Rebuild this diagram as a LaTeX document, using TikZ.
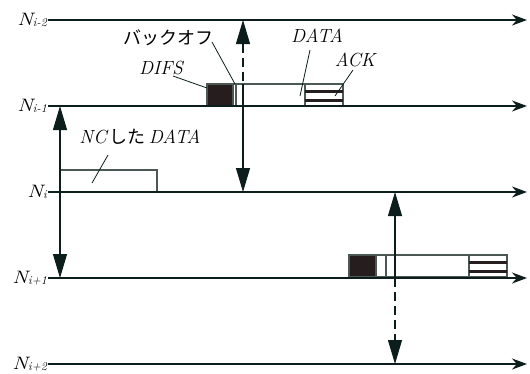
\documentclass[tikz,border=0pt]{standalone}
\usepackage{fontspec}
\newfontfamily\jafont{Noto Sans CJK JP}
\usetikzlibrary{arrows.meta}
\definecolor{lijnkleur}{RGB}{12,30,28}
\definecolor{kaderkleur}{RGB}{75,88,84}
\definecolor{blokkleur}{RGB}{38,30,30}

\begin{document}
\begin{tikzpicture}[x=1pt, y=-1pt, font=\fontsize{19}{22}\selectfont\itshape,
		tijdlijn/.style={line width=2pt, lijnkleur, -{Stealth[length=15pt, width=11pt]}},
		kader/.style={draw=kaderkleur, line width=1.1pt, fill=white},
		blok/.style={draw=kaderkleur, line width=1.1pt, fill=blokkleur},
		streep/.style={line width=3pt, blokkleur},
		bereik/.style={line width=1.1pt, lijnkleur},
		punt/.tip={Triangle[length=24pt, width=14pt]},
		leider/.style={line width=0.8pt, lijnkleur}]
		\useasboundingbox (0,0) rectangle (530,373);

		% Frames: DIFS, backoff, DATA en ACK (twee keer)
		\foreach \a/\b/\c/\d/\e/\t in {207/233/236/305/343/84, 349/376/386/469/507/255} {
			\draw[blok] (\a,\t) rectangle (\b,\t+22);
			\draw[kader] (\b,\t) rectangle (\c,\t+22);
			\draw[kader] (\c,\t) rectangle (\d,\t+22);
			\draw[kader] (\d,\t) rectangle (\e,\t+22);
			\draw[streep] (\d,\t+7.5) -- (\e,\t+7.5);
			\draw[streep] (\d,\t+16) -- (\e,\t+16);
		}
		% Gecodeerde DATA van N_i
		\draw[kader] (60,170) rectangle (157,192);

		% Tijdlijnen met labels
		\foreach \y/\sub/\n in {20/i-2/a, 106/i-1/b, 192/i/c, 278/i+1/d, 364/i+2/e} {
			\node[anchor=base east, inner sep=0pt, font=\fontsize{18}{20}\selectfont\itshape] (lab\n) at (47,\y+5)
				{\scalebox{1.2}[1]{N}\raisebox{-0.25ex}{\fontsize{12}{12}\selectfont\sub}};
			\coordinate (start\n) at (48,\y);
			\coordinate (eind\n) at (527,\y);
			\draw[tijdlijn] (start\n) -- (eind\n);
		}

		% Bereik van de zenders
		\coordinate (links1) at (60,106);
		\coordinate (links2) at (60,278);
		\draw[bereik, punt-punt] (links1) -- (links2);

		\coordinate (midden1) at (243,20);
		\coordinate (midden2) at (243,84);
		\coordinate (midden3) at (243,192);
		\draw[bereik, dash pattern=on 9pt off 5pt, punt-] (midden1) -- (midden2);
		\draw[bereik, -punt] (midden2) -- (midden3);

		\coordinate (rechts1) at (395,192);
		\coordinate (rechts2) at (395,278);
		\coordinate (rechts3) at (395,364);
		\draw[bereik, punt-] (rechts1) -- (rechts2);
		\draw[bereik, dash pattern=on 9pt off 5pt, -punt] (rechts2) -- (rechts3);

		% Tekst labels met leiderlijnen
		\node[inner sep=0pt] (backoff) at (168,38) {\jafont\fontsize{18}{20}\selectfont バックオフ};
		\coordinate (backoffa) at (212,42);
		\coordinate (backoffb) at (235,84);
		\draw[leider] (backoffa) -- (backoffb);

		\node[inner sep=0pt] (difs) at (161,68) {DIFS};
		\coordinate (difsa) at (173,76);
		\coordinate (difsb) at (207,88);
		\draw[leider] (difsa) -- (difsb);

		\node[inner sep=0pt] (data) at (317,36) {DATA};
		\coordinate (dataa) at (310,50);
		\coordinate (datab) at (300,96);
		\draw[leider] (dataa) -- (datab);

		\node[inner sep=0pt] (ack) at (355,60) {ACK};
		\coordinate (acka) at (353,70);
		\coordinate (ackb) at (335,96);
		\draw[leider] (acka) -- (ackb);

		\node[inner sep=0pt] (ncdata) at (140,137) {NC\,{\jafont\upshape\fontsize{18}{20}\selectfont した}\,DATA};
		\coordinate (ncdataa) at (108,155);
		\coordinate (ncdatab) at (92,183);
		\draw[leider] (ncdataa) -- (ncdatab);
	\end{tikzpicture}
\end{document}
